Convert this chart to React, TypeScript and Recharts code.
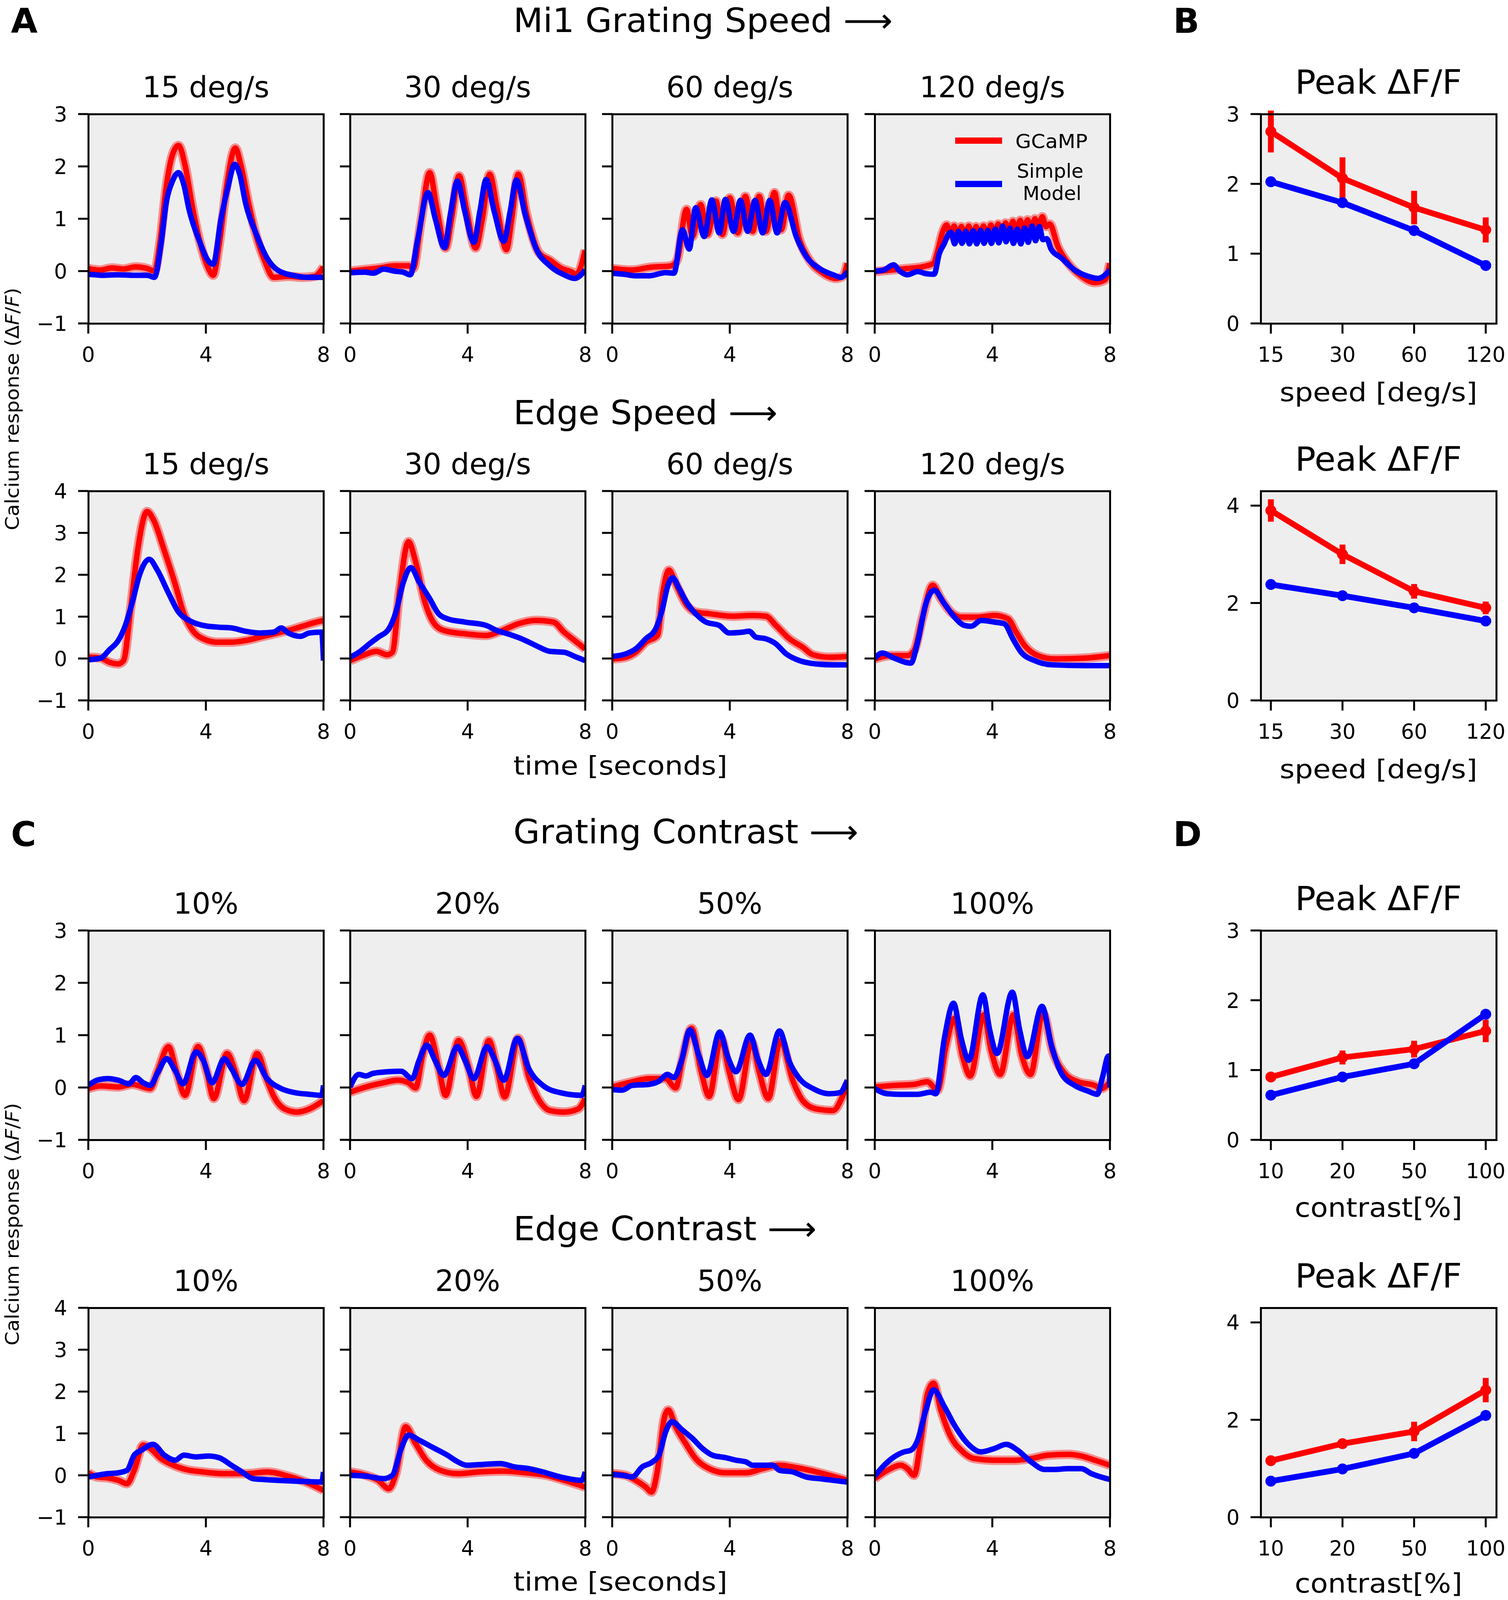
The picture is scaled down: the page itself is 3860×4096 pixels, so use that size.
import React from 'react';
import { LineChart, Line, XAxis, YAxis, ErrorBar } from 'recharts';

type P = [number, number][];

// ---------- Panel A: grating speed (time [s], ΔF/F) ----------
const gs15Gcamp: P = [[0,0.05],[0.4,0.02],[0.8,0.06],[1.2,0.04],[1.6,0.08],[2.0,0.05],[2.25,0.0],[2.45,0.6],[2.65,1.6],[2.85,2.2],[3.07,2.4],[3.3,2.0],[3.55,1.2],[3.8,0.55],[4.05,0.1],[4.25,-0.08],[4.45,0.5],[4.7,1.6],[5.0,2.35],[5.2,2.0],[5.45,1.3],[5.7,0.7],[6.0,0.2],[6.3,-0.12],[6.8,-0.1],[7.3,-0.12],[7.7,-0.1],[8.0,0.08]];
const gs15Model: P = [[0,-0.06],[0.5,-0.08],[1.0,-0.07],[1.5,-0.08],[2.0,-0.08],[2.25,-0.12],[2.47,0.5],[2.65,1.3],[2.85,1.7],[3.07,1.88],[3.25,1.65],[3.43,1.17],[3.79,0.56],[4.05,0.22],[4.25,0.13],[4.51,0.98],[4.75,1.6],[4.98,2.04],[5.15,1.85],[5.35,1.3],[5.72,0.7],[6.08,0.25],[6.44,0.02],[7.04,-0.09],[7.5,-0.12],[8.0,-0.12]];
const gs30Gcamp: P = [[0,0.0],[0.5,0.03],[1.0,0.06],[1.5,0.1],[2.0,0.1],[2.15,0.05],[2.4,0.9],[2.71,1.88],[2.95,1.2],[3.25,0.44],[3.45,1.0],[3.71,1.82],[3.95,1.2],[4.27,0.44],[4.5,1.0],[4.75,1.85],[5.0,1.2],[5.32,0.41],[5.5,1.0],[5.72,1.85],[6.0,1.1],[6.44,0.34],[6.8,0.21],[7.2,0.05],[7.52,-0.01],[7.7,-0.06],[8.0,0.4]];
const gs30Model: P = [[0,-0.03],[0.5,-0.02],[0.8,-0.04],[1.14,0.04],[1.5,0.0],[1.8,-0.02],[2.05,-0.07],[2.3,0.6],[2.65,1.5],[2.9,1.0],[3.21,0.45],[3.42,1.1],[3.65,1.72],[3.9,1.15],[4.21,0.55],[4.42,1.15],[4.63,1.75],[4.9,1.15],[5.23,0.57],[5.45,1.15],[5.66,1.74],[5.95,1.1],[6.32,0.44],[6.8,0.1],[7.28,-0.07],[7.64,-0.14],[8.0,0.02]];
const gs60Gcamp: P = [[0,0.05],[0.68,0.02],[1.25,0.07],[2.0,0.1],[2.2,0.2],[2.53,1.18],[2.73,0.66],[3.01,1.27],[3.24,0.7],[3.53,1.34],[3.75,0.7],[4.0,1.4],[4.27,0.73],[4.53,1.43],[4.78,0.76],[5.0,1.43],[5.23,0.76],[5.52,1.5],[5.75,0.79],[6.0,1.45],[6.37,0.6],[6.71,0.21],[7.17,-0.04],[7.62,-0.14],[7.85,-0.1],[8.0,0.15]];
const gs60Model: P = [[0,-0.04],[0.4,-0.06],[0.8,-0.09],[1.25,-0.09],[1.82,-0.03],[2.1,-0.04],[2.39,0.79],[2.62,0.42],[2.84,1.21],[3.13,0.66],[3.39,1.36],[3.64,0.73],[3.85,1.37],[4.13,0.76],[4.36,1.35],[4.61,0.76],[4.86,1.35],[5.12,0.73],[5.36,1.35],[5.61,0.73],[5.88,1.31],[6.26,0.66],[6.6,0.28],[7.05,0.05],[7.51,-0.07],[7.79,-0.12],[8.0,-0.01]];
const gs120Gcamp: P = [[0,-0.01],[0.55,0.02],[1.11,0.05],[1.68,0.09],[2.0,0.15],[2.15,0.4],[2.3,0.73],[2.45,0.88],[2.57,0.68],[2.7,0.86],[2.82,0.66],[2.95,0.85],[3.07,0.66],[3.2,0.86],[3.32,0.64],[3.45,0.85],[3.57,0.66],[3.7,0.86],[3.82,0.66],[3.95,0.88],[4.07,0.68],[4.2,0.9],[4.32,0.7],[4.45,0.92],[4.57,0.72],[4.7,0.95],[4.82,0.74],[4.95,0.97],[5.07,0.76],[5.2,0.98],[5.32,0.78],[5.45,1.0],[5.57,0.8],[5.7,1.04],[5.82,0.85],[5.95,0.9],[6.23,0.47],[6.58,0.15],[7.03,-0.1],[7.49,-0.22],[7.83,-0.17],[8.0,0.15]];
const gs120Model: P = [[0,0.0],[0.3,0.02],[0.64,0.12],[0.85,0.0],[1.11,-0.07],[1.46,-0.01],[1.75,-0.05],[2.02,-0.06],[2.2,0.34],[2.37,0.53],[2.5,0.7],[2.6,0.74],[2.72,0.52],[2.85,0.76],[2.97,0.53],[3.1,0.76],[3.22,0.52],[3.35,0.77],[3.47,0.52],[3.6,0.78],[3.72,0.53],[3.85,0.78],[3.97,0.53],[4.1,0.8],[4.22,0.54],[4.35,0.86],[4.47,0.56],[4.6,0.82],[4.72,0.53],[4.85,0.8],[4.97,0.52],[5.1,0.82],[5.22,0.55],[5.35,0.86],[5.47,0.58],[5.6,0.85],[5.72,0.6],[5.85,0.62],[6.0,0.42],[6.35,0.25],[6.8,0.02],[7.26,-0.1],[7.6,-0.14],[8.0,0.02]];

// ---------- Panel A: edge speed ----------
const es15Gcamp: P = [[0,0.03],[0.42,0.01],[0.72,-0.09],[1.02,-0.13],[1.2,-0.05],[1.44,1.19],[1.68,2.59],[2.0,3.51],[2.22,3.31],[2.58,2.59],[2.95,1.79],[3.25,1.07],[3.55,0.67],[3.91,0.47],[4.39,0.39],[4.87,0.39],[5.36,0.43],[5.84,0.51],[6.32,0.59],[6.8,0.67],[7.28,0.77],[7.76,0.87],[8.0,0.91]];
const es15Model: P = [[0,-0.03],[0.42,0.01],[0.72,0.21],[1.02,0.43],[1.26,0.79],[1.5,1.35],[1.74,1.99],[2.07,2.37],[2.35,2.11],[2.71,1.59],[3.07,1.11],[3.43,0.91],[3.91,0.79],[4.39,0.75],[4.87,0.73],[5.36,0.65],[5.84,0.61],[6.32,0.63],[6.56,0.73],[6.8,0.61],[7.22,0.53],[7.52,0.61],[7.94,0.63],[8.0,-0.05]];
const es30Gcamp: P = [[0,-0.05],[0.42,0.07],[0.9,0.17],[1.26,0.09],[1.44,0.15],[1.68,1.59],[1.99,2.79],[2.23,2.31],[2.53,1.39],[2.83,0.87],[3.19,0.67],[3.91,0.59],[4.63,0.55],[5.11,0.65],[5.72,0.83],[6.32,0.91],[6.92,0.87],[7.28,0.63],[7.64,0.43],[8.0,0.23]];
const es30Model: P = [[0,0.03],[0.3,0.15],[0.66,0.35],[0.96,0.51],[1.32,0.71],[1.56,1.11],[1.8,1.79],[2.07,2.17],[2.35,1.83],[2.71,1.43],[3.01,1.07],[3.31,0.95],[3.91,0.87],[4.63,0.79],[4.99,0.67],[5.36,0.59],[5.84,0.47],[6.32,0.31],[6.8,0.17],[7.28,0.15],[7.64,0.05],[8.0,-0.05]];
const es60Gcamp: P = [[0,-0.01],[0.46,0.03],[0.8,0.15],[1.14,0.39],[1.54,0.55],[1.71,1.51],[1.93,2.11],[2.16,1.79],[2.5,1.31],[2.84,1.11],[3.3,1.07],[4.1,1.01],[4.78,1.03],[5.23,1.01],[5.57,0.79],[6.03,0.47],[6.48,0.27],[6.83,0.09],[7.4,0.03],[8.0,0.05]];
const es60Model: P = [[0,0.05],[0.46,0.11],[0.8,0.23],[1.14,0.47],[1.48,0.71],[1.71,1.19],[1.88,1.71],[2.05,1.93],[2.28,1.67],[2.56,1.31],[2.84,1.07],[3.19,0.87],[3.64,0.79],[3.98,0.61],[4.44,0.63],[4.66,0.65],[4.89,0.51],[5.23,0.47],[5.57,0.35],[5.92,0.11],[6.37,-0.05],[6.94,-0.13],[7.51,-0.15],[8.0,-0.15]];
const es120Gcamp: P = [[0,-0.01],[0.55,0.07],[1.11,0.07],[1.34,0.19],[1.63,0.99],[1.97,1.75],[2.25,1.43],[2.59,1.11],[2.94,0.99],[3.51,0.99],[4.07,1.03],[4.53,0.95],[4.81,0.63],[5.1,0.31],[5.55,0.07],[6.12,-0.01],[7.14,0.01],[8.0,0.07]];
const es120Model: P = [[0,0.01],[0.26,0.13],[0.66,0.01],[1.23,-0.11],[1.46,0.39],[1.74,1.31],[2.02,1.63],[2.37,1.31],[2.71,0.99],[3.05,0.79],[3.28,0.77],[3.62,0.91],[4.07,0.87],[4.41,0.83],[4.7,0.47],[4.98,0.15],[5.44,-0.05],[6.01,-0.15],[7.14,-0.17],[8.0,-0.17]];

// ---------- Panel C: grating contrast ----------
const gc10Gcamp: P = [[0,-0.02],[0.42,0.03],[1.02,0.01],[1.5,0.06],[2.11,-0.02],[2.35,0.3],[2.73,0.78],[3.0,0.3],[3.29,-0.15],[3.73,0.78],[4.03,0.3],[4.27,-0.21],[4.72,0.65],[5.0,0.3],[5.3,-0.25],[5.74,0.65],[6.08,0.14],[6.32,-0.18],[6.68,-0.41],[7.1,-0.47],[7.52,-0.41],[8.0,-0.25]];
const gc10Model: P = [[0,0.04],[0.3,0.14],[0.66,0.17],[1.02,0.14],[1.38,0.07],[1.62,0.19],[1.87,0.09],[2.11,0.04],[2.35,0.27],[2.67,0.55],[2.95,0.33],[3.22,0.07],[3.67,0.68],[3.91,0.52],[4.21,0.09],[4.63,0.55],[4.87,0.36],[5.23,0.06],[5.68,0.52],[6.08,0.17],[6.56,-0.02],[7.04,-0.1],[7.52,-0.13],[7.94,-0.15],[8.0,0.04]];
const gc20Gcamp: P = [[0,-0.09],[0.54,0.01],[1.14,0.09],[1.62,0.14],[1.99,0.09],[2.23,-0.01],[2.47,0.62],[2.71,1.0],[3.01,0.39],[3.25,-0.15],[3.69,0.9],[4.03,0.39],[4.3,-0.17],[4.72,0.9],[4.99,0.39],[5.26,-0.18],[5.72,0.94],[6.08,0.2],[6.44,-0.25],[6.8,-0.44],[7.28,-0.47],[7.76,-0.41],[8.0,-0.21]];
const gc20Model: P = [[0,0.01],[0.3,0.25],[0.54,0.22],[0.78,0.27],[1.26,0.3],[1.74,0.31],[2.11,0.17],[2.35,0.52],[2.61,0.81],[2.89,0.52],[3.19,0.23],[3.65,0.78],[3.91,0.52],[4.21,0.17],[4.66,0.78],[4.93,0.52],[5.23,0.14],[5.69,0.94],[6.08,0.36],[6.56,0.04],[7.16,-0.1],[7.88,-0.15],[8.0,0.04]];
const gc50Gcamp: P = [[0,0.01],[0.68,0.11],[1.25,0.17],[1.82,0.17],[2.16,-0.01],[2.39,0.55],[2.7,1.13],[3.03,0.3],[3.3,-0.17],[3.7,0.94],[3.98,0.3],[4.3,-0.23],[4.74,0.87],[5.0,0.3],[5.31,-0.21],[5.72,0.9],[6.14,0.14],[6.48,-0.25],[6.94,-0.41],[7.51,-0.44],[7.85,-0.15],[8.0,0.07]];
const gc50Model: P = [[0,-0.04],[0.34,-0.05],[0.68,0.04],[1.25,0.06],[1.59,0.12],[1.88,0.25],[2.1,0.19],[2.35,0.5],[2.64,1.1],[2.96,0.59],[3.22,0.23],[3.66,1.06],[3.93,0.59],[4.21,0.3],[4.69,1.0],[4.95,0.55],[5.23,0.25],[5.69,1.08],[6.03,0.49],[6.37,0.17],[6.83,-0.02],[7.39,-0.12],[7.74,-0.1],[8.0,0.14]];
const gc100Gcamp: P = [[0,0.01],[0.66,0.04],[1.34,0.06],[1.79,0.11],[2.14,-0.05],[2.42,0.78],[2.71,1.32],[2.99,0.59],[3.25,0.22],[3.71,1.39],[3.96,0.71],[4.27,0.25],[4.72,1.39],[5.0,0.62],[5.3,0.25],[5.72,1.42],[6.06,0.68],[6.46,0.27],[6.91,0.11],[7.48,0.04],[7.71,-0.02],[8.0,0.11]];
const gc100Model: P = [[0,-0.02],[0.43,-0.12],[0.89,-0.13],[1.46,-0.13],[1.91,-0.09],[2.08,-0.12],[2.37,0.94],[2.68,1.61],[2.94,0.94],[3.2,0.52],[3.68,1.77],[3.91,1.1],[4.16,0.65],[4.68,1.82],[4.93,1.1],[5.19,0.59],[5.69,1.55],[6.01,0.81],[6.35,0.27],[6.8,0.04],[7.26,-0.07],[7.57,-0.13],[7.75,0.2],[7.95,0.6],[8.0,0.0]];

// ---------- Panel C: edge contrast ----------
const ec10Gcamp: P = [[0,0.06],[0.3,-0.04],[0.66,-0.06],[1.02,-0.12],[1.32,-0.2],[1.56,0.12],[1.87,0.72],[2.11,0.64],[2.47,0.4],[2.83,0.26],[3.31,0.14],[3.91,0.08],[4.63,0.04],[5.36,0.04],[6.08,0.08],[6.8,-0.02],[7.4,-0.16],[8.0,-0.36]];
const ec10Model: P = [[0,-0.04],[0.3,0.0],[0.66,0.04],[1.02,0.06],[1.32,0.12],[1.56,0.48],[1.81,0.6],[2.2,0.74],[2.59,0.48],[2.95,0.36],[3.25,0.48],[3.67,0.44],[4.09,0.46],[4.45,0.42],[4.87,0.24],[5.23,0.08],[5.6,-0.08],[5.96,-0.1],[6.44,-0.12],[7.04,-0.14],[7.94,-0.16],[8.0,0.08]];
const ec20Gcamp: P = [[0,0.08],[0.54,0.0],[0.96,-0.12],[1.32,-0.32],[1.56,0.04],[1.89,1.16],[2.23,0.76],[2.59,0.36],[3.07,0.12],[3.67,0.04],[4.39,0.08],[5.23,0.1],[5.96,0.06],[6.68,0.0],[7.28,-0.12],[8.0,-0.28]];
const ec20Model: P = [[0,0.0],[0.54,-0.02],[1.14,-0.08],[1.44,0.0],[1.74,0.64],[1.99,0.96],[2.35,0.84],[2.83,0.66],[3.31,0.48],[3.67,0.32],[3.97,0.24],[4.51,0.26],[5.11,0.28],[5.6,0.2],[6.08,0.16],[6.56,0.08],[7.16,-0.04],[7.88,-0.12],[8.0,0.08]];
const ec50Gcamp: P = [[0,0.04],[0.46,0.0],[0.8,-0.12],[1.14,-0.28],[1.34,-0.4],[1.54,0.12],[1.77,1.36],[1.91,1.56],[2.16,1.16],[2.5,0.76],[2.84,0.4],[3.3,0.16],[3.87,0.06],[4.55,0.06],[5.12,0.16],[5.69,0.24],[6.14,0.2],[6.71,0.12],[7.39,0.0],[8.0,-0.12]];
const ec50Model: P = [[0,0.02],[0.34,0.0],[0.68,-0.04],[1.02,0.2],[1.37,0.32],[1.59,0.48],[1.82,1.04],[2.03,1.28],[2.39,1.08],[2.73,0.88],[3.07,0.64],[3.41,0.48],[3.87,0.42],[4.21,0.36],[4.55,0.32],[4.78,0.24],[5.12,0.24],[5.46,0.24],[5.69,0.12],[6.14,0.08],[6.6,-0.04],[7.05,-0.08],[7.51,-0.12],[8.0,-0.16]];
const ec100Gcamp: P = [[0,-0.08],[0.43,0.12],[0.89,0.24],[1.11,0.16],[1.34,0.0],[1.57,0.84],[1.8,1.96],[2.0,2.2],[2.25,1.56],[2.59,0.92],[2.94,0.6],[3.39,0.4],[4.07,0.36],[4.75,0.36],[5.32,0.4],[5.89,0.48],[6.58,0.5],[7.03,0.46],[7.49,0.36],[8.0,0.24]];
const ec100Model: P = [[0,-0.02],[0.32,0.24],[0.66,0.44],[1.0,0.56],[1.23,0.6],[1.46,0.84],[1.74,1.56],[2.0,2.04],[2.37,1.64],[2.71,1.2],[3.16,0.76],[3.62,0.56],[4.07,0.64],[4.47,0.74],[4.86,0.6],[5.32,0.32],[5.78,0.14],[6.12,0.14],[6.58,0.16],[7.03,0.16],[7.37,0.04],[8.0,-0.1]];

// ---------- Panels B & D: peak ΔF/F ----------
const speedCats = ['15', '30', '60', '120'];
const contrastCats = ['10', '20', '50', '100'];
const peakGratSpeedGcamp = [2.75, 2.08, 1.66, 1.34];
const peakGratSpeedErr = [0.3, 0.3, 0.24, 0.18];
const peakGratSpeedModel = [2.03, 1.73, 1.33, 0.83];
const peakEdgeSpeedGcamp = [3.9, 3.0, 2.24, 1.9];
const peakEdgeSpeedErr = [0.23, 0.2, 0.15, 0.13];
const peakEdgeSpeedModel = [2.38, 2.15, 1.9, 1.63];
const peakGratContGcamp = [0.9, 1.18, 1.3, 1.56];
const peakGratContErr = [0.05, 0.1, 0.12, 0.16];
const peakGratContModel = [0.64, 0.9, 1.09, 1.8];
const peakEdgeContGcamp = [1.16, 1.51, 1.76, 2.61];
const peakEdgeContErr = [0.06, 0.07, 0.2, 0.25];
const peakEdgeContModel = [0.74, 0.99, 1.31, 2.09];

// ---------- text ----------
const rowTitles = ['Mi1 Grating Speed \u27F6', 'Edge Speed \u27F6', 'Grating Contrast \u27F6', 'Edge Contrast \u27F6'];
const speedTitles = ['15 deg/s', '30 deg/s', '60 deg/s', '120 deg/s'];
const contrastTitles = ['10%', '20%', '50%', '100%'];
const timeTicks = [0, 4, 8];

// ---------- layout ----------
const FONT = '"DejaVu Sans", "Noto Sans", sans-serif';
const RED = '#ff0000';
const BLUE = '#0000ff';
const BG = '#eeeeee';
const PW = 602;
const PH = 536;
const COLS = [226, 896, 1567, 2239];
const ROWS = [292, 1257, 2382, 3348];
const SUMX = 3227;
const SUMW = 603;
const PADL = 170;
const PADR = 50;
const PADT = 70;
const PADB = 130;
const TICK = 26;
const SPINE = 5;
const TFS = 53;
const LW = 14;

const fmt = (v: number | string) => {
  const n = Number(v);
  return n < 0 ? '\u2212' + Math.abs(n) : String(v);
};

const xTick = (props: any) => (
  <text x={props.x} y={props.y + 72} textAnchor="middle" fontSize={TFS} fontFamily={FONT} fill="#000">
    {fmt(props.payload.value)}
  </text>
);
const yTickOn = (props: any) => (
  <text x={props.x - 28} y={props.y + 19} textAnchor="end" fontSize={TFS} fontFamily={FONT} fill="#000">
    {fmt(props.payload.value)}
  </text>
);
const yTickOff = () => <g />;

type Row = { t: number; r?: number; b?: number };
function merge(red: P, blue: P): Row[] {
  const m = new Map<number, Row>();
  red.forEach(([t, v]) => {
    const o = m.get(t) ?? { t };
    o.r = v;
    m.set(t, o);
  });
  blue.forEach(([t, v]) => {
    const o = m.get(t) ?? { t };
    o.b = v;
    m.set(t, o);
  });
  return Array.from(m.values()).sort((a, b) => a.t - b.t);
}

function Frame({ left, top, w, h, under }: { left: number; top: number; w: number; h: number; under?: boolean }) {
  if (under) return <div style={{ position: 'absolute', left, top, width: w, height: h, background: BG }} />;
  return (
    <div
      style={{
        position: 'absolute',
        left: left - SPINE / 2,
        top: top - SPINE / 2,
        width: w + SPINE,
        height: h + SPINE,
        border: `${SPINE}px solid #000`,
        boxSizing: 'border-box',
        pointerEvents: 'none',
      }}
    />
  );
}

function TracePanel({ left, top, red, blue, yMax, labels }: { left: number; top: number; red: P; blue: P; yMax: number; labels: boolean }) {
  const data = merge(red, blue);
  const yTicks = yMax === 3 ? [-1, 0, 1, 2, 3] : [-1, 0, 1, 2, 3, 4];
  const tl = { stroke: '#000', strokeWidth: SPINE };
  return (
    <>
      <Frame left={left} top={top} w={PW} h={PH} under />
      <div style={{ position: 'absolute', left: left - PADL, top: top - PADT }}>
        <LineChart width={PW + PADL + PADR} height={PH + PADT + PADB} data={data} margin={{ top: PADT, right: PADR, bottom: 0, left: 0 }}>
          <XAxis dataKey="t" type="number" domain={[0, 8]} ticks={timeTicks} interval={0} height={PADB} tickSize={TICK} tickMargin={0} axisLine={false} tickLine={tl} tick={xTick} allowDataOverflow />
          <YAxis type="number" domain={[-1, yMax]} ticks={yTicks} interval={0} width={PADL} tickSize={TICK} tickMargin={0} axisLine={false} tickLine={tl} tick={labels ? yTickOn : yTickOff} allowDataOverflow />
          <Line type="monotone" dataKey="r" stroke={RED} strokeOpacity={0.4} strokeWidth={24} strokeLinejoin="round" dot={false} activeDot={false} connectNulls isAnimationActive={false} />
          <Line type="monotone" dataKey="r" stroke={RED} strokeWidth={LW} strokeLinejoin="round" dot={false} activeDot={false} connectNulls isAnimationActive={false} />
          <Line type="monotone" dataKey="b" stroke={BLUE} strokeWidth={LW} strokeLinejoin="round" dot={false} activeDot={false} connectNulls isAnimationActive={false} />
        </LineChart>
      </div>
      <Frame left={left} top={top} w={PW} h={PH} />
    </>
  );
}

function SummaryPanel({ top, cats, red, err, blue, yMax, yTicks }: { top: number; cats: string[]; red: number[]; err: number[]; blue: number[]; yMax: number; yTicks: number[] }) {
  const data = cats.map((c, i) => ({ c, r: red[i], e: err[i], b: blue[i] }));
  const tl = { stroke: '#000', strokeWidth: SPINE };
  const padR = 30;
  return (
    <>
      <Frame left={SUMX} top={top} w={SUMW} h={PH} under />
      <div style={{ position: 'absolute', left: SUMX - PADL, top: top - PADT }}>
        <LineChart width={SUMW + PADL + padR} height={PH + PADT + PADB} data={data} margin={{ top: PADT, right: padR, bottom: 0, left: 0 }}>
          <XAxis dataKey="c" padding={{ left: 26, right: 27 }} interval={0} height={PADB} tickSize={TICK} tickMargin={0} axisLine={false} tickLine={tl} tick={xTick} />
          <YAxis type="number" domain={[0, yMax]} ticks={yTicks} interval={0} width={PADL} tickSize={TICK} tickMargin={0} axisLine={false} tickLine={tl} tick={yTickOn} allowDataOverflow />
          <Line type="linear" dataKey="r" stroke={RED} strokeWidth={15} dot={{ r: 14, fill: RED, stroke: RED, strokeWidth: 0 }} activeDot={false} isAnimationActive={false}>
            <ErrorBar dataKey="e" width={0} stroke={RED} strokeWidth={15} direction="y" />
          </Line>
          <Line type="linear" dataKey="b" stroke={BLUE} strokeWidth={15} dot={{ r: 14, fill: BLUE, stroke: BLUE, strokeWidth: 0 }} activeDot={false} isAnimationActive={false} />
        </LineChart>
      </div>
      <Frame left={SUMX} top={top} w={SUMW} h={PH} />
    </>
  );
}

const traceRows: { red: P; blue: P }[][] = [
  [
    { red: gs15Gcamp, blue: gs15Model },
    { red: gs30Gcamp, blue: gs30Model },
    { red: gs60Gcamp, blue: gs60Model },
    { red: gs120Gcamp, blue: gs120Model },
  ],
  [
    { red: es15Gcamp, blue: es15Model },
    { red: es30Gcamp, blue: es30Model },
    { red: es60Gcamp, blue: es60Model },
    { red: es120Gcamp, blue: es120Model },
  ],
  [
    { red: gc10Gcamp, blue: gc10Model },
    { red: gc20Gcamp, blue: gc20Model },
    { red: gc50Gcamp, blue: gc50Model },
    { red: gc100Gcamp, blue: gc100Model },
  ],
  [
    { red: ec10Gcamp, blue: ec10Model },
    { red: ec20Gcamp, blue: ec20Model },
    { red: ec50Gcamp, blue: ec50Model },
    { red: ec100Gcamp, blue: ec100Model },
  ],
];
const rowYMax = [3, 4, 3, 4];
const rowSubTitles = [speedTitles, speedTitles, contrastTitles, contrastTitles];
const rowTitleBase = [82, 1086, 2159, 3175];
const rowTitleLen = [971, 676, 883, 776];

function Overlay() {
  const t = (props: any) => <text fontFamily={FONT} fill="#000" {...props} />;
  const sumC = SUMX + SUMW / 2;
  const yLab = (yc: number) => (
    <text x={48} y={yc} transform={`rotate(-90 48 ${yc})`} textAnchor="middle" fontFamily={FONT} fontSize={48} fill="#000" textLength={621} lengthAdjust="spacingAndGlyphs">
      Calcium response (Δ<tspan fontStyle="italic">F</tspan>/<tspan fontStyle="italic">F</tspan>)
    </text>
  );
  return (
    <svg width={3860} height={4096} style={{ position: 'absolute', left: 0, top: 0, pointerEvents: 'none' }}>
      {t({ x: 28, y: 84, fontSize: 88, fontWeight: 'bold', children: 'A' })}
      {t({ x: 3003, y: 84, fontSize: 88, fontWeight: 'bold', children: 'B' })}
      {t({ x: 28, y: 2166, fontSize: 88, fontWeight: 'bold', children: 'C' })}
      {t({ x: 3003, y: 2166, fontSize: 88, fontWeight: 'bold', children: 'D' })}
      {rowTitles.map((s, i) =>
        t({ key: 'rt' + i, x: 1314, y: rowTitleBase[i], fontSize: 86, textLength: rowTitleLen[i], lengthAdjust: 'spacingAndGlyphs', children: s })
      )}
      {ROWS.map((rt, r) =>
        rowSubTitles[r].map((s, c) =>
          t({ key: `st${r}${c}`, x: COLS[c] + PW / 2, y: rt - 43, fontSize: 75, textAnchor: 'middle', children: s })
        )
      )}
      {ROWS.map((rt, r) =>
        t({ key: 'pk' + r, x: sumC, y: rt - 52, fontSize: 85, textAnchor: 'middle', textLength: 427, lengthAdjust: 'spacingAndGlyphs', children: 'Peak ΔF/F' })
      )}
      {t({ x: sumC, y: ROWS[0] + PH + 199, fontSize: 65, textAnchor: 'middle', textLength: 506, lengthAdjust: 'spacingAndGlyphs', children: 'speed [deg/s]' })}
      {t({ x: sumC, y: ROWS[1] + PH + 199, fontSize: 65, textAnchor: 'middle', textLength: 506, lengthAdjust: 'spacingAndGlyphs', children: 'speed [deg/s]' })}
      {t({ x: sumC, y: ROWS[2] + PH + 197, fontSize: 68, textAnchor: 'middle', textLength: 429, lengthAdjust: 'spacingAndGlyphs', children: 'contrast[%]' })}
      {t({ x: sumC, y: ROWS[3] + PH + 193, fontSize: 68, textAnchor: 'middle', textLength: 429, lengthAdjust: 'spacingAndGlyphs', children: 'contrast[%]' })}
      {t({ x: 1588, y: ROWS[1] + PH + 190, fontSize: 65, textAnchor: 'middle', textLength: 548, lengthAdjust: 'spacingAndGlyphs', children: 'time [seconds]' })}
      {t({ x: 1588, y: ROWS[3] + PH + 188, fontSize: 65, textAnchor: 'middle', textLength: 548, lengthAdjust: 'spacingAndGlyphs', children: 'time [seconds]' })}
      {yLab(1047)}
      {yLab(3134)}
      {/* legend */}
      <line x1={2445} x2={2565} y1={360} y2={360} stroke={RED} strokeWidth={16} />
      <line x1={2445} x2={2565} y1={471} y2={471} stroke={BLUE} strokeWidth={16} />
      {t({ x: 2599, y: 379, fontSize: 50, textLength: 185, lengthAdjust: 'spacingAndGlyphs', children: 'GCaMP' })}
      {t({ x: 2688, y: 455, fontSize: 50, textAnchor: 'middle', children: 'Simple' })}
      {t({ x: 2693, y: 512, fontSize: 50, textAnchor: 'middle', children: 'Model' })}
    </svg>
  );
}

export default function App() {
  return (
    <div style={{ position: 'absolute', left: 0, top: 0, width: 3860, height: 4096, background: '#fff', overflow: 'hidden', fontFamily: FONT }}>
      {traceRows.map((row, r) =>
        row.map((p, c) => (
          <TracePanel key={`${r}-${c}`} left={COLS[c]} top={ROWS[r]} red={p.red} blue={p.blue} yMax={rowYMax[r]} labels={c === 0} />
        ))
      )}
      <SummaryPanel top={ROWS[0]} cats={speedCats} red={peakGratSpeedGcamp} err={peakGratSpeedErr} blue={peakGratSpeedModel} yMax={3} yTicks={[0, 1, 2, 3]} />
      <SummaryPanel top={ROWS[1]} cats={speedCats} red={peakEdgeSpeedGcamp} err={peakEdgeSpeedErr} blue={peakEdgeSpeedModel} yMax={4.3} yTicks={[0, 2, 4]} />
      <SummaryPanel top={ROWS[2]} cats={contrastCats} red={peakGratContGcamp} err={peakGratContErr} blue={peakGratContModel} yMax={3} yTicks={[0, 1, 2, 3]} />
      <SummaryPanel top={ROWS[3]} cats={contrastCats} red={peakEdgeContGcamp} err={peakEdgeContErr} blue={peakEdgeContModel} yMax={4.3} yTicks={[0, 2, 4]} />
      <Overlay />
    </div>
  );
}
